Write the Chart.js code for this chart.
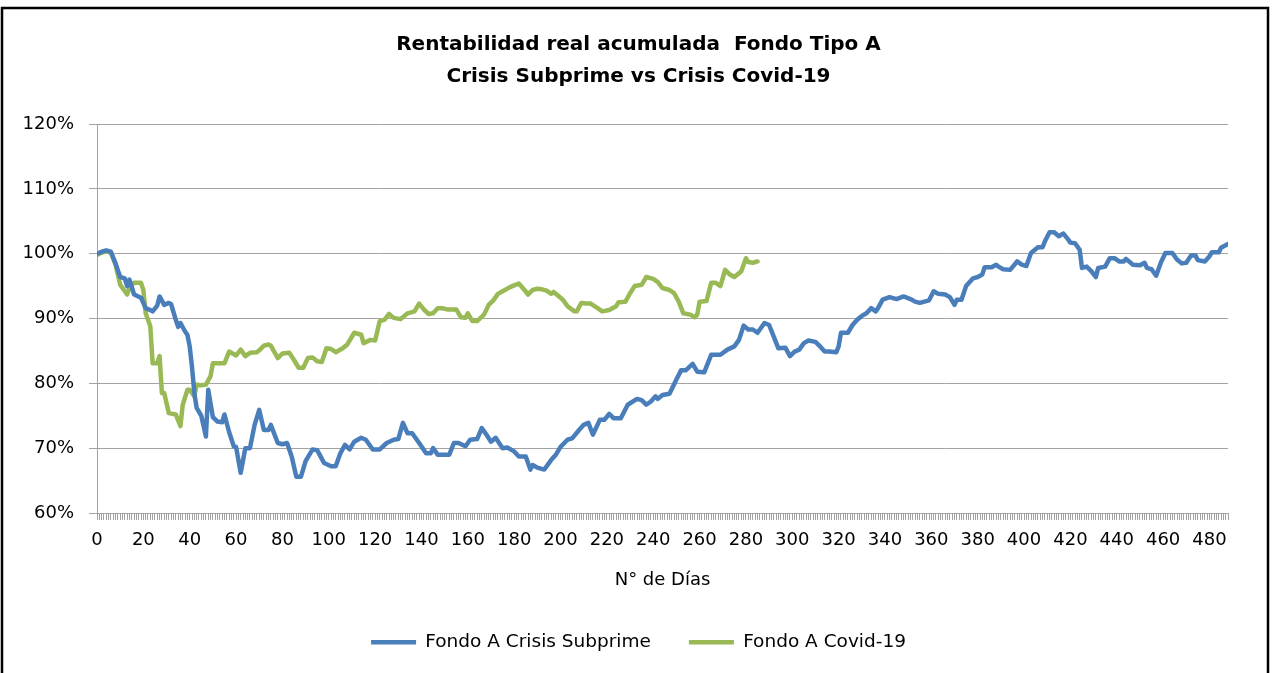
<!DOCTYPE html>
<html>
<head>
<meta charset="utf-8">
<script src="https://cdn.jsdelivr.net/npm/chart.js@4"></script>
<style>
  html, body { margin: 0; padding: 0; background: #fff; }
</style>
</head>
<body>
<canvas id="myChart" width="1272" height="673"></canvas>
<script>
// días y valores (% de rentabilidad real acumulada)
const subprimeDays = [
  0, 2, 4, 6, 8, 10, 12, 13, 14, 16,
  19, 21, 23, 24, 26, 27, 29, 31, 32, 34,
  35, 36, 38, 39, 40, 41, 42, 43, 45, 47,
  48, 50, 52, 54, 55, 57, 59, 60, 62, 64,
  66, 68, 70, 72, 74, 75, 78, 80, 82, 84,
  86, 88, 90, 93, 95, 98, 101, 103, 105, 107,
  109, 111, 114, 116, 119, 122, 125, 128, 130, 132,
  134, 136, 139, 142, 144, 145, 147, 150, 152, 154,
  156, 159, 161, 164, 166, 168, 170, 172, 175, 177,
  180, 182, 185, 187, 188, 190, 193, 196, 198, 200,
  203, 205, 208, 210, 212, 214, 217, 219, 221, 223,
  226, 229, 233, 235, 237, 239, 241, 242, 244, 247,
  250, 252, 254, 257, 259, 262, 265, 269, 272, 275,
  277, 279, 281, 283, 285, 288, 290, 292, 294, 297,
  299, 301, 303, 305, 307, 310, 312, 314, 316, 319,
  320, 321, 324, 326, 328, 330, 332, 334, 336, 337,
  339, 342, 345, 348, 351, 353, 355, 357, 359, 361,
  363, 366, 368, 370, 371, 373, 375, 378, 380, 382,
  383, 386, 388, 389, 391, 394, 397, 399, 401, 403,
  406, 408, 409, 411, 413, 415, 417, 419, 420, 422,
  424, 425, 427, 429, 431, 432, 435, 437, 439, 441,
  443, 444, 447, 450, 452, 453, 455, 457, 459, 461,
  464, 466, 468, 470, 472, 474, 475, 478, 480, 481,
  484, 485, 488
];
const subprimeValues = [
  100.0, 100.3, 100.5, 100.3, 98.5, 96.4, 96.2, 95.0, 96.0, 93.7,
  93.2, 91.6, 91.3, 91.1, 92.0, 93.4, 92.1, 92.4, 92.2, 89.8,
  88.7, 89.3, 88.0, 87.5, 85.7, 82.5, 78.5, 76.2, 75.0, 71.8,
  79.0, 74.8, 74.1, 74.0, 75.2, 72.5, 70.3, 70.2, 66.2, 70.0,
  70.0, 73.6, 75.9, 72.8, 72.8, 73.6, 70.8, 70.6, 70.8, 68.7,
  65.6, 65.6, 68.0, 69.8, 69.7, 67.7, 67.2, 67.2, 69.2, 70.5,
  69.8, 71.0, 71.6, 71.3, 69.8, 69.8, 70.8, 71.3, 71.4, 73.9,
  72.3, 72.3, 70.8, 69.2, 69.2, 70.0, 69.0, 69.0, 69.0, 70.8,
  70.8, 70.3, 71.3, 71.4, 73.1, 72.1, 71.0, 71.6, 70.0, 70.1,
  69.5, 68.7, 68.7, 66.7, 67.4, 67.0, 66.7, 68.2, 69.0, 70.2,
  71.3, 71.5, 72.8, 73.6, 73.9, 72.1, 74.4, 74.4, 75.3, 74.6,
  74.6, 76.7, 77.6, 77.4, 76.7, 77.2, 78.0, 77.6, 78.2, 78.4,
  80.6, 82.0, 82.0, 83.0, 81.8, 81.7, 84.4, 84.4, 85.2, 85.7,
  86.7, 88.9, 88.3, 88.3, 87.8, 89.3, 89.0, 87.2, 85.4, 85.5,
  84.2, 84.9, 85.2, 86.2, 86.6, 86.4, 85.7, 84.9, 84.9, 84.8,
  85.7, 87.8, 87.8, 89.0, 89.8, 90.4, 90.8, 91.6, 91.1, 91.6,
  92.9, 93.3, 93.0, 93.4, 93.0, 92.6, 92.4, 92.6, 92.8, 94.2,
  93.8, 93.7, 93.3, 92.1, 92.9, 92.9, 95.0, 96.2, 96.4, 96.8,
  97.9, 97.9, 98.3, 98.0, 97.6, 97.5, 98.8, 98.3, 98.1, 100.1,
  101.0, 101.0, 101.9, 103.3, 103.3, 102.7, 103.1, 102.2, 101.7, 101.6,
  100.6, 97.8, 98.0, 97.3, 96.4, 97.8, 98.0, 99.3, 99.3, 98.8,
  98.8, 99.2, 98.3, 98.2, 98.6, 97.8, 97.6, 96.6, 98.6, 100.1,
  100.1, 99.1, 98.5, 98.6, 99.7, 99.7, 99.0, 98.8, 99.6, 100.2,
  100.2, 100.9, 101.5
];

const covidDays = [
  0, 1, 4, 6, 8, 10, 11, 13, 14, 16,
  19, 20, 21, 23, 24, 26, 27, 28, 29, 31,
  34, 36, 37, 39, 40, 42, 43, 45, 47, 49,
  50, 52, 55, 57, 60, 62, 64, 66, 69, 70,
  72, 74, 75, 78, 80, 83, 85, 87, 89, 91,
  93, 95, 97, 99, 101, 103, 106, 108, 111, 114,
  115, 118, 120, 122, 124, 126, 128, 131, 134, 137,
  139, 141, 143, 145, 147, 149, 151, 153, 155, 157,
  159, 160, 162, 164, 167, 169, 171, 173, 176, 178,
  180, 182, 184, 186, 188, 190, 192, 194, 196, 197,
  199, 201, 203, 206, 207, 209, 211, 213, 216, 218,
  221, 224, 225, 228, 230, 232, 235, 237, 240, 242,
  244, 247, 249, 251, 253, 256, 258, 259, 260, 263,
  265, 267, 269, 271, 273, 275, 278, 280, 281, 283,
  285
];
const covidValues = [
  99.8, 100.0, 100.4, 100.1, 98.3, 95.2, 94.7, 93.7, 94.7, 95.5,
  95.5, 94.4, 90.8, 88.8, 83.1, 83.1, 84.2, 78.5, 78.5, 75.4,
  75.2, 73.4, 76.7, 79.0, 79.0, 78.0, 79.8, 79.7, 79.8, 81.1,
  83.1, 83.1, 83.1, 84.9, 84.3, 85.2, 84.2, 84.7, 84.8, 85.1,
  85.8, 86.0, 85.8, 83.9, 84.6, 84.7, 83.6, 82.4, 82.4, 83.9,
  84.0, 83.4, 83.3, 85.4, 85.3, 84.8, 85.4, 86.0, 87.8, 87.5,
  86.2, 86.7, 86.6, 89.6, 89.8, 90.7, 90.1, 89.9, 90.8, 91.1,
  92.3, 91.4, 90.7, 90.8, 91.6, 91.6, 91.4, 91.4, 91.4, 90.2,
  90.1, 90.8, 89.6, 89.6, 90.6, 92.1, 92.8, 93.8, 94.4, 94.8,
  95.1, 95.4, 94.6, 93.7, 94.4, 94.6, 94.5, 94.3, 93.8, 94.1,
  93.5, 92.9, 91.9, 91.1, 91.1, 92.4, 92.3, 92.3, 91.6, 91.1,
  91.3, 91.9, 92.5, 92.6, 93.9, 95.0, 95.2, 96.4, 96.1, 95.6,
  94.7, 94.4, 93.9, 92.6, 90.8, 90.6, 90.2, 90.6, 92.6, 92.7,
  95.5, 95.5, 95.0, 97.5, 96.8, 96.4, 97.3, 99.3, 98.7, 98.6,
  98.8
];

// marcas del eje X: una por día, rótulo cada 20
const dayTicks = Array.from({ length: 489 }, (_, i) => i);

const toPoints = (days, vals) => days.map((d, i) => ({ x: d, y: vals[i] }));

const axisGray = '#a3a3a3';
const textFont = { family: "'DejaVu Sans'", size: 18 };

// marco negro alrededor del gráfico
const frameBorder = {
  id: 'frameBorder',
  afterDraw(chart) {
    const ctx = chart.ctx;
    ctx.save();
    ctx.strokeStyle = '#000';
    ctx.lineWidth = 2.5;
    ctx.strokeRect(2, 8, 1266, chart.height + 20);
    ctx.restore();
  }
};

const getChart = document.getElementById('myChart').getContext('2d');
const mychart = new Chart(getChart, {
  type: 'line',
  data: {
    datasets: [{
      label: 'Fondo A Crisis Subprime',
      data: toPoints(subprimeDays, subprimeValues),
      borderColor: '#4a7ebb',
      backgroundColor: '#4a7ebb',
      borderWidth: 4.5,
      pointRadius: 0,
      tension: 0,
      borderJoinStyle: 'round',
      borderCapStyle: 'round'
    }, {
      label: 'Fondo A Covid-19',
      data: toPoints(covidDays, covidValues),
      borderColor: '#98b954',
      backgroundColor: '#98b954',
      borderWidth: 4.5,
      pointRadius: 0,
      tension: 0,
      borderJoinStyle: 'round',
      borderCapStyle: 'round'
    }]
  },
  options: {
    responsive: false,
    animation: false,
    layout: { padding: { left: 5, right: 0, top: 0, bottom: 18 } },
    plugins: {
      title: {
        display: true,
        text: ['Rentabilidad real acumulada  Fondo Tipo A', 'Crisis Subprime vs Crisis Covid-19'],
        color: '#000',
        font: { family: "'DejaVu Sans'", size: 20, weight: 'bold', lineHeight: 1.6 },
        padding: { top: 29, bottom: 31 }
      },
      legend: {
        position: 'bottom',
        maxHeight: 60,
        labels: {
          usePointStyle: true,
          pointStyle: 'line',
          pointStyleWidth: 45,
          padding: 38,
          color: '#000',
          font: { family: "'DejaVu Sans'", size: 18.5 }
        }
      },
      tooltip: { enabled: false }
    },
    scales: {
      x: {
        type: 'linear',
        min: 0,
        max: 488,
        afterFit: (s) => { s.height = 82; },
        afterBuildTicks: (s) => { s.ticks = dayTicks.map(v => ({ value: v })); },
        ticks: {
          autoSkip: false,
          maxRotation: 0,
          minRotation: 0,
          padding: 10,
          color: '#000',
          font: textFont,
          callback: (v) => (v % 20 === 0 ? String(v) : '')
        },
        grid: { drawOnChartArea: false, tickLength: 7, color: axisGray },
        border: { color: axisGray },
        title: {
          display: true,
          text: 'N° de Días',
          color: '#000',
          font: textFont,
          padding: { top: 0, bottom: 4 }
        }
      },
      y: {
        min: 60,
        max: 120,
        afterFit: (s) => { s.width = 92; },
        ticks: {
          stepSize: 10,
          padding: 15,
          color: '#000',
          font: textFont,
          callback: (v) => v + '%'
        },
        grid: { tickLength: 8, color: axisGray },
        border: { color: axisGray }
      },
      // eje vacío a la derecha: sólo reserva el margen derecho del área de trazado
      yRight: {
        position: 'right',
        min: 0,
        max: 1,
        afterFit: (s) => { s.width = 44; },
        ticks: { display: false },
        grid: { display: false },
        border: { display: false }
      }
    }
  },
  plugins: [frameBorder]
});
</script>
</body>
</html>
